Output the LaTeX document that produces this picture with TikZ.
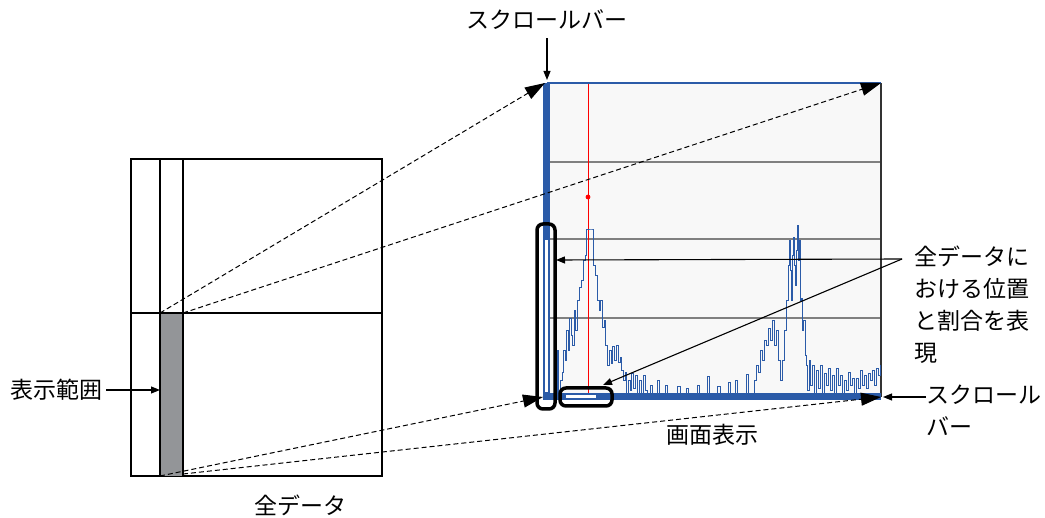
\documentclass[tikz,border=0pt]{standalone}
\usepackage{fontspec}
\newfontfamily\jpfont{Noto Sans CJK JP}
\usetikzlibrary{arrows.meta,plothandlers}
\definecolor{scrblue}{HTML}{2B5BA8}
\definecolor{rangegray}{HTML}{939598}
\definecolor{panelbg}{HTML}{F8F8F8}

\tikzset{
  lbl/.style={font=\jpfont\fontsize{23}{32}\selectfont, inner sep=0pt},
  bigtip/.style={dashed, line width=1pt, dash pattern=on 5pt off 3pt,
    -{Triangle[length=20pt,width=13pt]}},
  pointer/.style={line width=1.1pt, -{Triangle[length=9pt,width=7pt]}},
  frame/.style={line width=3.5pt, rounded corners=6pt},
}

\begin{document}
\begin{tikzpicture}[x=1pt,y=-1pt]
  \useasboundingbox (0,0) rectangle (1045,518);

  % Whole data
  \draw[line width=2pt] (131,159) rectangle (382,476);
  \fill[rangegray] (160,313) rectangle (183,476);
  \draw[line width=1.3pt] (160,159) -- (160,476);
  \draw[line width=1.3pt] (183,159) -- (183,476);
  \draw[line width=1.3pt] (131,313) -- (382,313);
  \coordinate (rtl) at (160,313);
  \coordinate (rtr) at (183,313);
  \coordinate (rbl) at (160,476);
  \coordinate (rbr) at (183,474);
  \coordinate (rmid) at (160,390);

  % Screen display
  \fill[panelbg] (547,83) rectangle (881,397);
  \foreach \gy in {162,239,318} {
    \draw[gray, line width=1.2pt] (550,\gy) -- (881,\gy);
  }
  \draw[black!80, line width=1.2pt] (881,83) -- (881,397);
  \draw[red, line width=1pt] (588,83) -- (588,397);
  \fill[red] (588,197) circle (2.4pt);

  % Spectrum
  \draw[scrblue, line width=0.9pt] plot[const plot] coordinates {
    (553,395)(556,395)(557,350)(558,395)(560,380)(562,372)(563,350)(565,360)
    (566,330)(568,350)(569,318)(571,335)(572,345)(574,310)(575,330)(577,300)
    (579,287)(581,280)(583,260)(585,255)(586,229)(592,229)(593,265)(595,275)
    (597,300)(599,310)(600,300)(602,327)(604,320)(605,345)(607,365)(609,350)
    (611,363)(612,346)(614,360)(616,345)(618,362)(620,357)(621,370)(623,380)
    (625,372)(626,393)(628,380)(630,390)(631,373)(633,388)(635,375)(637,393)
    (639,380)(641,393)(643,375)(645,390)(647,393)(650,385)(652,393)(655,393)
    (657,380)(659,393)(663,393)(665,385)(667,393)(675,393)(677,386)(680,393)
    (686,388)(688,393)(695,393)(697,385)(699,393)(705,393)(707,376)(709,393)
    (715,393)(717,386)(720,393)(726,393)(728,382)(730,393)(735,380)(737,393)
    (745,393)(746,374)(748,393)(752,393)(754,380)(756,365)(758,372)(760,350)
    (762,360)(764,340)(766,345)(768,328)(770,340)(772,320)(774,345)(776,330)
    (778,360)(780,380)(782,360)(784,330)(786,300)(788,265)(789,240)(790,270)
    (791,300)(792,255)(793,237)(794,265)(795,285)(796,250)(797,225)(798,260)
    (799,240)(800,300)(801,298)(802,330)(803,320)(805,355)(806,365)(807,390)
    (809,360)(810,385)(812,365)(814,393)(816,370)(818,388)(820,365)(822,393)
    (824,373)(826,385)(828,368)(830,390)(832,375)(834,393)(836,368)(838,385)
    (840,375)(842,393)(844,380)(846,390)(848,372)(850,385)(852,378)(854,393)
    (856,378)(858,388)(860,370)(862,385)(864,375)(866,388)(868,373)(870,380)
    (872,370)(874,385)(876,368)(878,375)(880,365)(881,365)
  };

  % Scroll bars
  \draw[scrblue, line width=1.8pt] (547,83) -- (881,83);
  \fill[scrblue] (543,83) rectangle (550,400);
  \fill[scrblue] (543,393) rectangle (881,400);
  \fill[white] (545,240) rectangle (548,392);
  \fill[white] (566,395) rectangle (596,398);
  \coordinate (stl) at (545,83);
  \coordinate (str) at (881,83);
  \coordinate (sbl) at (543,397);
  \coordinate (sbr) at (881,397);

  % Highlighted scroll bars
  \draw[frame] (537,224) rectangle (555,409);
  \draw[frame] (560,388) rectangle (612,406);
  \coordinate (vbar) at (556,260);
  \coordinate (hbar) at (603,385);

  % Projection lines
  \draw[bigtip] (rtl) -- (stl);
  \draw[bigtip] (rtr) -- (str);
  \draw[bigtip] (rbl) -- (sbl);
  \draw[bigtip] (rbr) -- (sbr);

  % Labels
  \node[lbl] (topbar) at (547,20) {スクロールバー};
  \coordinate (topbarend) at (547,80);
  \draw[pointer] (topbar.south) ++(0,8) -- (topbarend);

  \node[lbl] (range) at (56,390) {表示範囲};
  \draw[pointer] (range.east) ++(4,0) -- (rmid);

  \node[lbl] (alldata) at (300,505) {全データ};
  \node[lbl] (screen) at (712,435) {画面表示};

  \node[lbl, anchor=north west, align=left] (ratio) at (914,246)
    {全データに\\おける位置\\と割合を表\\現};
  \coordinate (fork) at (902,259);
  \draw[pointer] (fork) -- (vbar);
  \draw[pointer] (fork) -- (hbar);

  \node[lbl, anchor=north west, align=left] (sidebar) at (926,385)
    {スクロール\\バー};
  \coordinate (sidebarend) at (883,397);
  \draw[pointer] (sidebar.north west) ++(0,12) -- (sidebarend);
\end{tikzpicture}
\end{document}
